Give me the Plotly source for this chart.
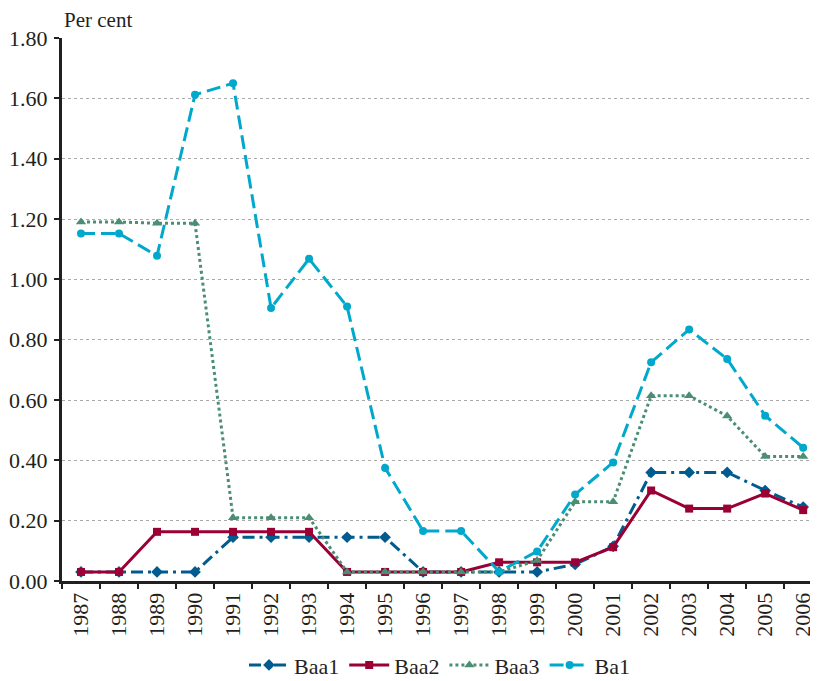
import plotly.graph_objects as go

years = [str(y) for y in range(1987, 2007)]
baa1 = [0.03, 0.03, 0.03, 0.03, 0.145, 0.145, 0.145, 0.145, 0.145, 0.03,
        0.03, 0.03, 0.03, 0.055, 0.115, 0.36, 0.36, 0.36, 0.30, 0.245]
baa2 = [0.03, 0.03, 0.163, 0.163, 0.163, 0.163, 0.163, 0.03, 0.03, 0.03,
        0.03, 0.062, 0.062, 0.062, 0.112, 0.30, 0.24, 0.24, 0.29, 0.235]
baa3 = [1.19, 1.19, 1.186, 1.186, 0.21, 0.21, 0.21, 0.03, 0.03, 0.03,
        0.03, 0.03, 0.068, 0.263, 0.263, 0.614, 0.614, 0.547, 0.413, 0.413]
ba1 = [1.152, 1.152, 1.078, 1.612, 1.65, 0.905, 1.068, 0.91, 0.375, 0.166,
       0.166, 0.031, 0.098, 0.287, 0.393, 0.725, 0.834, 0.736, 0.548, 0.442]
yticks = [0.0, 0.2, 0.4, 0.6, 0.8, 1.0, 1.2, 1.4, 1.6, 1.8]

FONT = "Liberation Serif"

fig = go.Figure()
series = [
    ("Baa1", baa1, "#005b8e", "12px,5px,3px,5px", "diamond", 9),
    ("Baa2", baa2, "#9a0036", "solid", "square", 8),
    ("Baa3", baa3, "#4b8e73", "dot", "triangle-up", 9),
    ("Ba1", ba1, "#00a8cc", "14px,6px", "circle", 8),
]
for name, vals, col, dash, sym, sz in series:
    fig.add_trace(go.Scatter(
        x=years, y=vals, name=name, mode="lines+markers",
        line=dict(color=col, width=3, dash=dash),
        marker=dict(symbol=sym, size=sz, color=col),
    ))

# page body has an 8px default margin; figure sized so the plot lands where the reference has it
fig.update_layout(
    width=810, height=673,
    margin=dict(l=54, r=0, t=30, b=100, autoexpand=False),
    plot_bgcolor="white", paper_bgcolor="white",
    font=dict(family=FONT, size=22, color="#231f20"),
    showlegend=True,
    legend=dict(orientation="h", x=0.5, xanchor="center", y=-0.155, yanchor="middle",
                font=dict(size=22), traceorder="normal", itemwidth=40),
    xaxis=dict(
        type="category", range=[-0.5, 19.39], tickson="boundaries",
        ticks="outside", ticklen=5, tickwidth=2, tickcolor="#231f20",
        showline=True, linecolor="#231f20", linewidth=3,
        tickangle=-90, showgrid=False, automargin=False,
        tickfont=dict(size=22),
    ),
    yaxis=dict(
        range=[0, 1.8], tickvals=yticks, tickformat=".2f",
        ticks="outside", ticklen=5, tickwidth=2, tickcolor="#231f20",
        showline=True, linecolor="#231f20", linewidth=3,
        showgrid=True, gridcolor="#aaaaaa", gridwidth=1, griddash="dot",
        zeroline=False, tickfont=dict(size=22), automargin=False,
        ticklabelstandoff=2,
    ),
    annotations=[dict(
        text="Per cent", xref="paper", yref="paper", x=0, y=1 + 18 / 543,
        xanchor="left", yanchor="middle", showarrow=False,
        font=dict(family=FONT, size=21, color="#231f20"),
    )],
)

fig.write_html("out.html")
